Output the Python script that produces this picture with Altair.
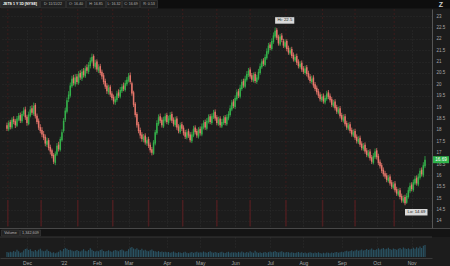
import altair as alt
import pandas as pd
import numpy as np

# ---------------- data ----------------
opens = [
    18.20,18.02,18.35,18.10,18.48,18.38,18.18,18.45,18.65,18.38,
    18.68,18.90,18.58,18.25,18.62,18.95,18.70,19.10,18.62,18.40,
    18.12,18.00,17.82,17.70,17.35,17.55,17.25,17.10,16.90,16.55,
    16.92,17.35,17.12,17.55,17.95,18.45,18.80,19.35,19.50,19.92,
    20.30,20.00,20.35,20.05,20.50,20.25,20.60,20.35,20.75,20.55,
    20.80,21.00,21.25,20.75,21.00,20.60,20.80,20.55,20.40,20.15,
    19.95,19.65,19.90,19.60,19.45,19.20,19.30,19.65,19.45,19.70,
    19.95,19.75,20.00,20.15,20.40,20.05,19.65,19.15,18.70,18.25,
    18.00,17.80,17.55,17.75,17.40,17.60,17.35,17.15,16.95,17.40,
    17.85,18.25,18.60,18.45,18.15,18.40,18.65,18.30,18.45,18.70,
    18.45,18.20,18.50,18.15,17.90,18.25,18.10,17.90,17.65,17.95,
    17.80,17.50,17.75,18.10,17.95,17.70,18.05,17.80,18.10,18.35,
    18.05,18.35,18.60,18.30,18.55,18.80,18.55,18.25,18.50,18.15,
    18.30,18.55,18.25,18.50,18.65,18.90,19.25,19.00,19.35,19.70,
    19.45,19.80,20.15,19.90,20.20,20.40,20.65,20.40,20.15,20.45,
    20.10,20.25,20.50,20.75,21.05,20.85,21.15,21.40,21.75,21.55,
    21.85,22.10,22.40,22.10,21.75,22.15,21.90,21.65,21.90,21.60,
    21.35,21.55,21.30,21.05,21.25,21.00,20.75,20.95,20.70,20.50,
    20.75,20.50,20.35,20.10,20.30,20.00,19.85,19.70,19.55,19.30,
    19.50,19.20,19.35,19.65,19.50,19.35,19.05,19.25,19.00,18.75,
    18.95,18.65,18.40,18.60,18.30,18.05,18.25,18.00,17.75,17.95,
    17.70,17.45,17.65,17.40,17.15,17.35,17.10,16.85,17.05,16.80,
    16.55,16.80,17.10,16.85,16.60,16.45,16.25,16.10,16.00,15.75,
    15.95,15.70,15.45,15.65,15.40,15.15,15.35,15.10,14.85,15.05,
    14.80,15.05,15.30,15.60,15.35,15.65,15.90,15.60,15.90,16.25,
    16.00,16.40,
]
highs = [
    18.32,18.41,18.44,18.55,18.60,18.47,18.61,18.74,18.76,18.82,
    18.99,19.02,18.66,18.80,19.05,19.08,19.20,19.18,18.72,18.50,
    18.25,18.12,17.95,17.80,17.66,17.64,17.35,17.18,16.98,17.05,
    17.42,17.48,17.70,18.02,18.52,18.98,19.42,19.70,20.08,20.38,
    20.42,20.45,20.46,20.58,20.62,20.68,20.72,20.82,20.88,20.98,
    21.18,21.35,21.32,21.08,21.10,20.88,20.90,20.65,20.50,20.25,
    20.05,19.98,19.98,19.70,19.55,19.48,19.72,19.78,19.88,20.02,
    20.08,20.18,20.32,20.50,20.52,20.12,19.72,19.22,18.78,18.35,
    18.10,17.90,17.82,17.85,17.68,17.70,17.45,17.25,17.55,18.00,
    18.42,18.68,18.72,18.55,18.58,18.72,18.75,18.62,18.78,18.80,
    18.55,18.58,18.60,18.25,18.32,18.35,18.20,18.00,18.02,18.05,
    17.90,17.92,18.18,18.20,18.05,18.12,18.15,18.28,18.42,18.45,
    18.52,18.68,18.70,18.72,18.88,18.90,18.65,18.58,18.60,18.48,
    18.62,18.65,18.68,18.82,19.08,19.32,19.35,19.52,19.78,19.80,
    19.98,20.22,20.25,20.38,20.58,20.72,20.75,20.50,20.52,20.55,
    20.42,20.68,20.92,21.12,21.15,21.32,21.58,21.82,21.85,22.02,
    22.28,22.50,22.48,22.18,22.22,22.25,22.00,21.98,21.98,21.70,
    21.62,21.65,21.40,21.32,21.35,21.10,21.02,21.05,20.80,20.82,
    20.85,20.60,20.45,20.38,20.40,20.10,19.95,19.80,19.65,19.58,
    19.60,19.52,19.72,19.75,19.60,19.45,19.32,19.35,19.10,19.02,
    19.05,18.75,18.68,18.70,18.40,18.32,18.35,18.10,18.02,18.05,
    17.80,17.72,17.75,17.50,17.42,17.45,17.20,17.12,17.15,16.90,
    16.98,17.18,17.20,16.95,16.70,16.55,16.35,16.20,16.10,16.02,
    16.05,15.80,15.72,15.75,15.50,15.42,15.45,15.20,15.12,15.15,
    15.22,15.48,15.68,15.70,15.82,15.98,16.00,16.08,16.32,16.35,
    16.58,16.85,
]
lows = [
    17.95,17.94,18.02,18.03,18.25,18.08,18.12,18.38,18.30,18.30,
    18.60,18.44,18.18,18.20,18.55,18.66,18.62,18.50,18.25,18.00,
    17.85,17.68,17.55,17.28,17.25,17.10,16.92,16.75,16.50,16.45,
    16.85,17.05,17.05,17.48,17.88,18.35,18.72,19.22,19.42,19.85,
    19.95,19.90,20.00,19.98,20.20,20.15,20.30,20.28,20.48,20.45,
    20.70,20.92,20.70,20.65,20.55,20.50,20.40,20.22,20.00,19.80,
    19.58,19.55,19.45,19.30,19.12,19.10,19.22,19.40,19.38,19.62,
    19.70,19.68,19.92,20.08,20.00,19.50,19.00,18.55,18.10,17.85,
    17.62,17.48,17.45,17.35,17.30,17.20,17.00,16.88,16.90,17.32,
    17.78,18.18,18.30,18.10,18.08,18.32,18.25,18.22,18.38,18.30,
    18.15,18.12,18.00,17.85,17.82,17.95,17.75,17.60,17.58,17.65,
    17.45,17.42,17.68,17.80,17.65,17.62,17.75,17.72,18.02,18.00,
    17.98,18.28,18.25,18.22,18.48,18.40,18.20,18.18,18.10,18.08,
    18.22,18.20,18.18,18.42,18.58,18.82,18.95,18.92,19.28,19.40,
    19.38,19.72,19.85,19.82,20.12,20.32,20.25,20.10,20.08,20.05,
    20.02,20.18,20.42,20.68,20.80,20.78,21.08,21.32,21.50,21.48,
    21.78,22.02,21.95,21.70,21.68,21.85,21.60,21.58,21.45,21.30,
    21.28,21.15,21.00,20.98,20.85,20.70,20.68,20.55,20.45,20.42,
    20.35,20.20,20.05,20.02,19.85,19.70,19.55,19.40,19.25,19.22,
    19.15,19.12,19.28,19.35,19.20,19.00,18.98,18.85,18.70,18.68,
    18.50,18.35,18.32,18.15,18.00,17.98,17.85,17.70,17.68,17.55,
    17.40,17.38,17.25,17.10,17.08,16.95,16.80,16.78,16.65,16.50,
    16.48,16.72,16.70,16.45,16.30,16.10,15.95,15.85,15.70,15.68,
    15.55,15.40,15.38,15.25,15.10,15.08,14.95,14.80,14.78,14.69,
    14.75,14.98,15.22,15.30,15.28,15.58,15.55,15.52,15.82,15.95,
    15.92,16.32,
]
closes = [
    18.05,18.30,18.12,18.45,18.35,18.20,18.50,18.62,18.40,18.70,
    18.85,18.55,18.30,18.68,18.90,18.75,19.05,18.60,18.35,18.10,
    17.95,17.80,17.65,17.40,17.52,17.20,17.05,16.85,16.60,16.95,
    17.30,17.15,17.60,17.90,18.40,18.85,19.30,19.55,19.95,20.25,
    20.05,20.30,20.10,20.45,20.30,20.55,20.40,20.70,20.60,20.85,
    21.05,21.20,20.80,20.95,20.65,20.75,20.50,20.35,20.10,19.90,
    19.70,19.85,19.55,19.40,19.25,19.35,19.60,19.50,19.75,19.90,
    19.80,20.05,20.20,20.35,20.10,19.60,19.10,18.65,18.20,17.95,
    17.75,17.60,17.70,17.45,17.55,17.30,17.10,17.00,17.45,17.90,
    18.30,18.55,18.40,18.20,18.45,18.60,18.35,18.50,18.65,18.40,
    18.25,18.45,18.10,17.95,18.20,18.05,17.85,17.70,17.90,17.75,
    17.55,17.80,18.05,17.90,17.75,18.00,17.85,18.15,18.30,18.10,
    18.40,18.55,18.35,18.60,18.75,18.50,18.30,18.45,18.20,18.35,
    18.50,18.30,18.55,18.70,18.95,19.20,19.05,19.40,19.65,19.50,
    19.85,20.10,19.95,20.25,20.45,20.60,20.35,20.20,20.40,20.15,
    20.30,20.55,20.80,21.00,20.90,21.20,21.45,21.70,21.60,21.90,
    22.15,22.35,22.05,21.80,22.10,21.95,21.70,21.85,21.55,21.40,
    21.50,21.25,21.10,21.20,20.95,20.80,20.90,20.65,20.55,20.70,
    20.45,20.30,20.15,20.25,19.95,19.80,19.65,19.50,19.35,19.45,
    19.25,19.40,19.60,19.45,19.30,19.10,19.20,18.95,18.80,18.90,
    18.60,18.45,18.55,18.25,18.10,18.20,17.95,17.80,17.90,17.65,
    17.50,17.60,17.35,17.20,17.30,17.05,16.90,17.00,16.75,16.60,
    16.85,17.05,16.80,16.55,16.40,16.20,16.05,15.95,15.80,15.90,
    15.65,15.50,15.60,15.35,15.20,15.30,15.05,14.90,15.00,14.78,
    15.10,15.35,15.55,15.40,15.70,15.85,15.65,15.95,16.20,16.05,
    16.45,16.69,
]
volumes = [  # millions
    4.2,3.8,4.5,3.9,5.1,4.4,6.2,4.8,3.5,4.0,5.5,6.8,
    7.2,5.9,6.5,5.1,4.7,5.8,4.9,6.1,7.0,5.5,4.8,5.2,6.3,5.0,4.4,3.6,4.1,3.2,3.8,4.5,5.7,4.9,
    6.8,7.5,6.9,5.8,6.2,5.5,4.9,5.3,6.0,5.1,4.6,5.4,6.6,5.2,4.8,5.9,7.4,6.1,5.0,4.7,
    5.3,4.9,5.8,6.4,5.1,4.6,5.0,5.7,4.8,4.4,5.2,6.0,5.5,4.9,5.8,6.3,5.4,4.7,5.1,
    6.5,7.8,8.4,7.1,6.6,7.4,6.2,5.8,6.9,5.5,6.1,5.3,4.9,5.7,6.3,5.2,4.8,4.5,5.0,4.3,4.7,4.1,4.4,
    3.9,4.2,3.6,4.0,4.6,3.8,3.4,4.1,3.7,3.3,3.9,4.5,3.6,3.2,3.8,4.3,3.5,3.9,4.4,3.7,
    4.1,3.8,4.6,4.0,3.5,4.2,4.9,3.9,3.6,4.3,3.8,3.4,4.0,4.5,3.7,3.3,3.9,4.4,3.6,4.1,3.8,
    4.0,3.6,4.3,3.8,4.7,3.9,3.5,4.2,3.7,4.8,4.1,3.6,5.2,3.9,3.5,4.0,3.4,3.8,4.3,3.6,4.1,
    4.6,3.9,4.4,5.0,4.2,3.8,4.5,4.9,4.1,3.7,4.3,3.9,3.5,4.0,3.6,3.3,3.8,4.2,3.5,3.9,
    3.4,3.8,3.2,3.6,4.1,3.5,3.1,3.7,3.3,3.9,3.4,3.0,3.6,3.2,3.8,3.5,3.1,3.7,3.4,3.9,4.3,3.6,4.0,
    4.5,4.1,4.8,5.3,4.6,5.0,5.6,4.9,5.4,6.1,5.2,5.7,6.4,5.5,6.0,6.8,5.8,6.3,7.1,6.2,5.9,
    6.6,7.3,6.4,6.9,7.6,6.5,7.0,7.8,6.8,6.2,7.2,6.7,6.1,6.9,7.5,6.6,7.9,7.1,6.8,7.4,6.5,
    7.0,7.7,6.9,8.2,7.3,8.8,7.6,9.4,10.2,
]
month_idx = [12, 34, 54, 73, 96, 116, 137, 158, 178, 201, 222, 243]
month_lbl = ["Dec", "'22", "Feb", "Mar", "Apr", "May", "Jun", "Jul", "Aug", "Sep", "Oct", "Nov"]
expiry_idx = [0.5, 20.5, 42.5, 63.5, 85, 105.5, 126, 146, 167.5, 189.5, 209, 232.5]
price_ticks = [14, 14.5, 15, 15.5, 16, 16.5, 17, 17.5, 18, 18.5, 19, 19.5,
               20, 20.5, 21, 21.5, 22, 22.5, 23]
header_items = ["JETS 1 Y 1D [NYSE]", "D: 11/11/22", "O: 16.40", "H: 16.85",
                "L: 16.32", "C: 16.69", "R: 0.53"]
volume_items = ["Volume", "1,342,609"]

assert len(opens) == len(highs) == len(lows) == len(closes) == len(volumes)

# ---------------- layout / style ----------------
W, H = 432, 258
P_TOP, P_BOT = 9, 228
V_TOP, V_BOT = 238, 257
BG = "#1c1c1c"
GREEN = "#34b04a"
RED = "#e6766b"
VOLC = "#2a5566"
FONT = "Liberation Sans"

df = pd.DataFrame(dict(i=np.arange(len(closes)), o=opens, h=highs, l=lows,
                       c=closes, v=volumes))
df["dir"] = np.where(df.c >= df.o, "up", "down")

xs = alt.Scale(domain=[-1.2, 252.2], nice=False, zero=False)
ys = alt.Scale(domain=[13.69, 23.31], range=[P_BOT, P_TOP], nice=False, zero=False)
vs = alt.Scale(domain=[0, 16], range=[V_BOT, V_TOP], nice=False, zero=True)
col = alt.Color("dir:N", scale=alt.Scale(domain=["up", "down"], range=[GREEN, RED]),
                legend=None)

lbl_arr = "[" + ",".join('"' + s + '"' for s in month_lbl) + "]"
idx_arr = "[" + ",".join(str(v) for v in month_idx) + "]"
x_axis = alt.Axis(values=month_idx, labelExpr=f"{lbl_arr}[indexof({idx_arr}, datum.value)]",
                  grid=True, gridColor="#2d2d2d", gridDash=[1, 2], ticks=False,
                  domain=True, domainColor="#3a3a3a", labelColor="#a8a8a8",
                  labelFontSize=5, labelFont=FONT, labelPadding=2, labelOverlap=False,
                  labelBound=False, labelFlush=False, title=None)
y_axis = alt.Axis(orient="right", values=price_ticks, format="~g", grid=True,
                  gridColor="#2a2a2a", gridDash=[1, 2], ticks=False, domainColor="#555555",
                  labelColor="#a8a8a8", labelFontSize=4.5, labelFont=FONT, labelPadding=4,
                  labelOverlap=False, labelBound=False, labelFlush=False, title=None)

one = pd.DataFrame({"k": [0]})

# expiration lines
exp_df = pd.DataFrame({"e": expiry_idx})
exp_lines = alt.Chart(exp_df).mark_rule(color="#3a1c1c", strokeWidth=1, strokeDash=[2, 2]).encode(
    x=alt.X("e:Q", scale=xs, axis=x_axis), y=alt.value(P_TOP), y2=alt.value(P_BOT))
exp_marks = alt.Chart(exp_df).mark_rule(color="#4a1e20", strokeWidth=1.5).encode(
    x=alt.X("e:Q", scale=xs, axis=x_axis), y=alt.value(200), y2=alt.value(226))

wicks = alt.Chart(df).mark_rule(strokeWidth=0.8).encode(
    x=alt.X("i:Q", scale=xs, axis=x_axis),
    y=alt.Y("l:Q", scale=ys, axis=y_axis), y2="h:Q", color=col)
bodies = alt.Chart(df).mark_bar(size=1.5).encode(
    x=alt.X("i:Q", scale=xs, axis=x_axis), y=alt.Y("o:Q", scale=ys, axis=y_axis), y2="c:Q", color=col)

hi_i = int(np.argmax(highs)); lo_i = int(np.argmin(lows))
ann = pd.DataFrame({
    "i": [hi_i, lo_i], "i2": [hi_i + 11.5, lo_i + 13.5],
    "p": [max(highs), min(lows)],
    "t": [f"Hi: {max(highs):g}", f"Lo: {min(lows):g}"],
})
hi_df = ann.iloc[[0]]; lo_df = ann.iloc[[1]]

def bubble(d, off, dx):
    outer = alt.Chart(d).mark_rule(strokeWidth=6.5, color="#d9d9d9", yOffset=off, strokeCap="butt").encode(
        x=alt.X("i:Q", scale=xs, axis=x_axis), x2="i2:Q", y=alt.Y("p:Q", scale=ys, axis=y_axis))
    txt = alt.Chart(d).mark_text(fontSize=4.3, font=FONT, color="#1a1a1a", align="center",
                                 baseline="middle", yOffset=off, dx=dx).encode(
        x=alt.X("i:Q", scale=xs, axis=x_axis), y=alt.Y("p:Q", scale=ys, axis=y_axis), text="t:N")
    return outer + txt

last_df = pd.DataFrame({"p": [closes[-1]], "t": [f"{closes[-1]:.2f}"]})
last_box = alt.Chart(last_df).mark_rule(strokeWidth=7, color="#2fb24a", strokeCap="butt").encode(
    x=alt.value(433), x2=alt.value(449), y=alt.Y("p:Q", scale=ys, axis=y_axis))
last_txt = alt.Chart(last_df).mark_text(fontSize=4.6, font=FONT, color="#ffffff",
                                        align="center", baseline="middle").encode(
    x=alt.value(441), y=alt.Y("p:Q", scale=ys, axis=y_axis), text="t:N")

price_group = alt.layer(exp_lines, exp_marks, wicks, bodies,
                        bubble(hi_df, -7, 9.8), bubble(lo_df, 7, 11.5), last_box, last_txt)

vol = alt.Chart(df).mark_bar(size=1.1, color=VOLC).encode(
    x=alt.X("i:Q", scale=xs, axis=x_axis), y=alt.Y("v:Q", scale=vs, axis=None))

# header bar and panel decorations
deco = []
deco.append(alt.Chart(one).mark_rect(color="#0e0e0e").encode(
    x=alt.value(0), x2=alt.value(450), y=alt.value(0), y2=alt.value(8.5)))
hx = [0, 40, 66, 86, 106, 122, 140, 158]
for k, t in enumerate(header_items):
    deco.append(alt.Chart(one).mark_rect(fill="#202020" if k else "#2a2a2a",
                                          stroke="#3c3c3c", strokeWidth=0.6).encode(
        x=alt.value(hx[k] + 0.5), x2=alt.value(hx[k + 1] - 0.5), y=alt.value(0.5), y2=alt.value(8)))
    deco.append(alt.Chart(pd.DataFrame({"t": [t]})).mark_text(
        fontSize=3.6, font=FONT, color="#ffffff" if k == 0 else "#b5b5b5",
        fontWeight="bold" if k == 0 else "normal", align="center", baseline="middle").encode(
        x=alt.value((hx[k] + hx[k + 1]) / 2), y=alt.value(4.4), text="t:N"))
deco.append(alt.Chart(pd.DataFrame({"t": ["Z"]})).mark_text(
    fontSize=7, font=FONT, color="#cfcfcf", fontWeight="bold", align="center", baseline="middle").encode(
    x=alt.value(441), y=alt.value(5), text="t:N"))

# panel separators
deco.append(alt.Chart(one).mark_rect(color="#141414").encode(
    x=alt.value(0), x2=alt.value(450), y=alt.value(228.5), y2=alt.value(237)))
deco.append(alt.Chart(one).mark_rule(color="#555555", strokeWidth=0.8).encode(
    x=alt.value(0), x2=alt.value(450), y=alt.value(228.5)))
deco.append(alt.Chart(one).mark_rule(color="#444444", strokeWidth=0.7).encode(
    x=alt.value(0), x2=alt.value(432), y=alt.value(237)))
vx = [1, 20, 41]
for k, t in enumerate(volume_items):
    deco.append(alt.Chart(one).mark_rect(fill="#232323", stroke="#3c3c3c", strokeWidth=0.6).encode(
        x=alt.value(vx[k] + 0.5), x2=alt.value(vx[k + 1] - 0.5), y=alt.value(230), y2=alt.value(236)))
    deco.append(alt.Chart(pd.DataFrame({"t": [t]})).mark_text(
        fontSize=3.8, font=FONT, color="#b5b5b5", align="center", baseline="middle").encode(
        x=alt.value((vx[k] + vx[k + 1]) / 2), y=alt.value(233.2), text="t:N"))

chart = alt.layer(price_group, vol, *deco).resolve_scale(y="independent").properties(
    width=W, height=H, background=BG,
    padding={"left": 0, "top": 0, "right": 18, "bottom": 8},
    autosize=alt.AutoSizeParams(type="none"),
).configure_view(stroke=None).configure_axis(labelOverlap=False, labelBound=False)

chart.save("out.html", embed_options={"renderer": "svg", "actions": False})
